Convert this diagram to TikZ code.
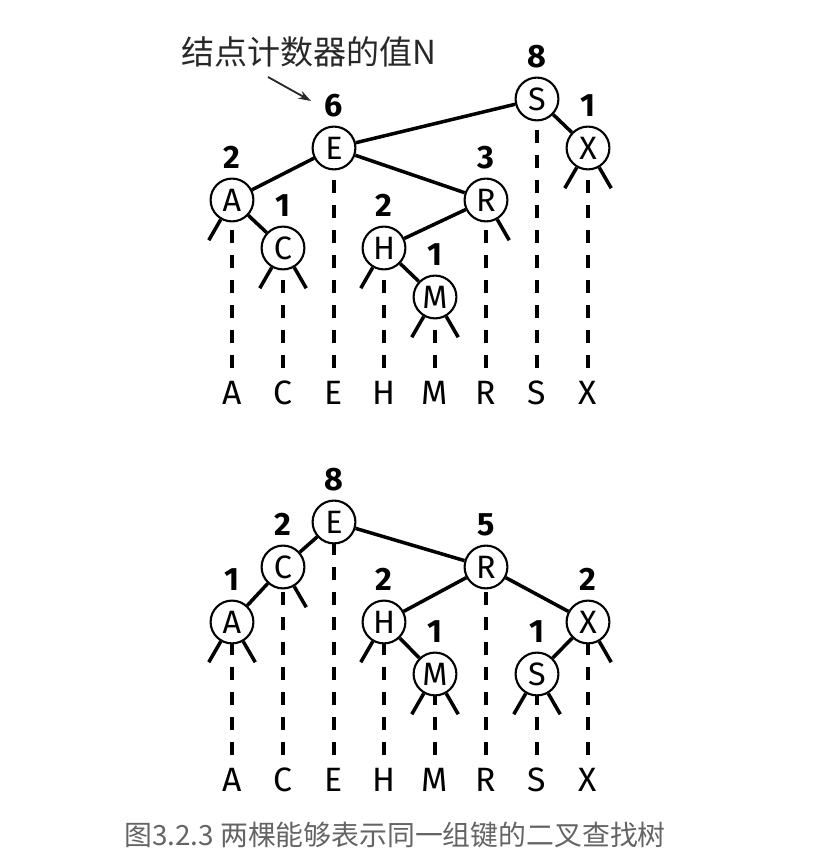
\documentclass[tikz,border=0pt]{standalone}
\usepackage{fontspec}
\setmainfont{Fira Sans}
\newfontfamily\cjk{Noto Sans CJK SC}
\usetikzlibrary{arrows.meta}
\definecolor{notegray}{RGB}{40,40,40}
\definecolor{capgray}{RGB}{100,100,100}

\begin{document}
\begin{tikzpicture}[x=0.025cm, y=0.025cm,
		bst/.style={circle, draw, line width=1.5pt, minimum size=1.07cm, inner sep=0pt, font=\fontsize{23}{26}\selectfont},
		cnt/.style={font=\fontsize{23}{25}\selectfont\bfseries, inner sep=0pt},
		keylab/.style={font=\fontsize{24}{26}\selectfont, inner sep=0pt},
		link/.style={line width=2.5pt},
		stub/.style={line width=2.5pt},
		guide/.style={line width=2.4pt, dash pattern=on 9.2pt off 8.6pt, shorten <=9pt},
		every label/.style={cnt}, label distance=6pt]
			\useasboundingbox (0,0) rectangle (818,853);

			% upper tree
			\node (s1)[bst, label=above:8] at (537, 754) {S};
			\node (e1)[bst, label=above:6] at (334, 705) {E};
			\node (x1)[bst, label=above:1] at (588, 705) {X};
			\node (a1)[bst, label=above:2] at (232, 653) {A};
			\node (r1)[bst, label=above:3] at (486, 653) {R};
			\node (c1)[bst, label=above:1] at (283, 605) {C};
			\node (h1)[bst, label=above:2] at (384, 605) {H};
			\node (m1)[bst, label=above:1] at (435, 556) {M};

			\node (ka1)[keylab] at (232, 460) {A};
			\node (kc1)[keylab] at (283, 460) {C};
			\node (ke1)[keylab] at (334, 460) {E};
			\node (kh1)[keylab] at (384, 460) {H};
			\node (km1)[keylab] at (435, 460) {M};
			\node (kr1)[keylab] at (486, 460) {R};
			\node (ks1)[keylab] at (537, 460) {S};
			\node (kx1)[keylab] at (588, 460) {X};

			\draw[link] (e1) -- (s1);
			\draw[link] (s1) -- (x1);
			\draw[link] (a1) -- (e1);
			\draw[link] (e1) -- (r1);
			\draw[link] (a1) -- (c1);
			\draw[link] (h1) -- (r1);
			\draw[link] (h1) -- (m1);

			% lower tree
			\node (e2)[bst, label=above:8] at (334, 331) {E};
			\node (c2)[bst, label=above:2] at (283, 286) {C};
			\node (r2)[bst, label=above:5] at (486, 286) {R};
			\node (a2)[bst, label=above:1] at (232, 231) {A};
			\node (h2)[bst, label=above:2] at (384, 231) {H};
			\node (x2)[bst, label=above:2] at (588, 231) {X};
			\node (m2)[bst, label=above:1] at (435, 179) {M};
			\node (s2)[bst, label=above:1] at (537, 179) {S};

			\node (ka2)[keylab] at (232, 73) {A};
			\node (kc2)[keylab] at (283, 73) {C};
			\node (ke2)[keylab] at (334, 73) {E};
			\node (kh2)[keylab] at (384, 73) {H};
			\node (km2)[keylab] at (435, 73) {M};
			\node (kr2)[keylab] at (486, 73) {R};
			\node (ks2)[keylab] at (537, 73) {S};
			\node (kx2)[keylab] at (588, 73) {X};

			\draw[link] (c2) -- (e2);
			\draw[link] (e2) -- (r2);
			\draw[link] (a2) -- (c2);
			\draw[link] (h2) -- (r2);
			\draw[link] (r2) -- (x2);
			\draw[link] (h2) -- (m2);
			\draw[link] (s2) -- (x2);

			% null links
			\foreach \n/\a in {a1/-120, c1/-120, c1/-60, h1/-120, m1/-120, m1/-60, r1/-60, x1/-120, x1/-60,
				a2/-120, a2/-60, c2/-60, h2/-120, m2/-120, m2/-60, s2/-120, s2/-60, x2/-60}
				\draw[stub] (\n.\a) -- ++(\a:24);

			% keys
			\foreach \n/\k in {a1/ka1, c1/kc1, e1/ke1, h1/kh1, m1/km1, r1/kr1, s1/ks1, x1/kx1,
				a2/ka2, c2/kc2, e2/ke2, h2/kh2, m2/km2, r2/kr2, s2/ks2, x2/kx2}
				\draw[guide] (\n |- \k.north) -- (\n.south);

			% note and caption
			\node (note)[text=notegray, font=\cjk\fontsize{23.5}{26}\selectfont] at (309, 801) {结点计数器的值N};
			\coordinate (ptr) at (268, 776);
			\coordinate (tip) at (311, 752);
			\draw[-{Stealth[length=9pt, width=6pt]}, line width=1.3pt, notegray] (ptr) -- (tip);

			\node (cap)[text=capgray, font=\cjk\fontsize{19.8}{22}\selectfont] at (395, 18) {图3.2.3 两棵能够表示同一组键的二叉查找树};
		\end{tikzpicture}
\end{document}
